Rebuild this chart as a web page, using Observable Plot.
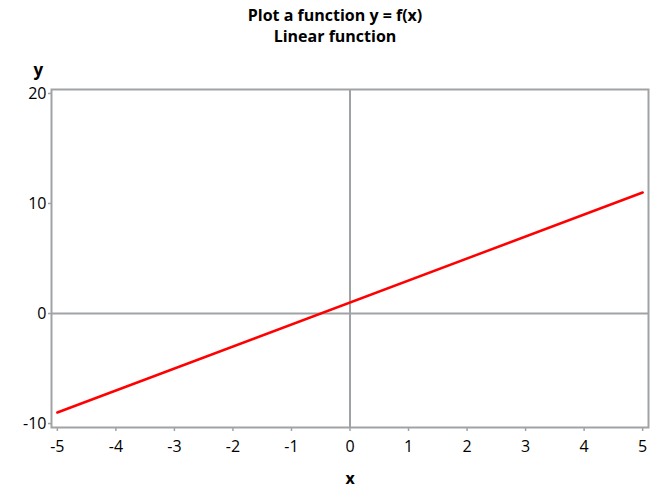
<!DOCTYPE html>
<html>
<head>
<meta charset="utf-8">
<script src="https://cdn.jsdelivr.net/npm/d3@7"></script>
<script src="https://cdn.jsdelivr.net/npm/@observablehq/plot@0.6"></script>
<style>
  body { margin: 0; background: #fff; font-family: "Open Sans", "Noto Sans", sans-serif; }
  #title { height: 48px; box-sizing: border-box; padding-top: 5px; text-align: center; font-weight: 700; font-size: 16px; line-height: 21px; color: #000; padding-left: 4px; }
  #chart g[aria-label="x-axis tick label"], #chart g[aria-label="y-axis tick label"] { font-size: 16px !important; }
</style>
</head>
<body>
<div id="title"></div>
<div id="chart"></div>
<script>
const xValues = [-5, 5];
const yValues = [-9, 11];
const xTicks = [-5, -4, -3, -2, -1, 0, 1, 2, 3, 4, 5];
const yTicks = [-10, 0, 10, 20];
const titleLines = ["Plot a function y = f(x)", "Linear function"];
const xLabel = "x";
const yLabel = "y";

const titleEl = document.getElementById("title");
titleLines.forEach(t => { const d = document.createElement("div"); d.textContent = t; titleEl.appendChild(d); });

const data = xValues.map((x, i) => ({x, y: yValues[i]}));
const gray = "#a0a3a6";

const chart = Plot.plot({
  width: 666,
  height: 440,
  marginTop: 41,
  marginBottom: 61,
  marginLeft: 51,
  marginRight: 18,
  style: {fontFamily: "'Open Sans', 'Noto Sans', sans-serif", fontSize: "16px", color: "#000", background: "#fff"},
  x: {domain: [-5.1, 5.1]},
  y: {domain: [-10.36, 20.36]},
  marks: [
    Plot.ruleX([0], {stroke: gray, strokeWidth: 2}),
    Plot.ruleY([0], {stroke: gray, strokeWidth: 2}),
    Plot.line(data, {x: "x", y: "y", stroke: "#ff0000", strokeWidth: 2.5}),
    Plot.frame({stroke: gray, strokeWidth: 2}),
    Plot.axisX({ticks: xTicks, tickFormat: d => String(d), tickSize: 4, tickPadding: 9, stroke: gray, strokeWidth: 1.5, label: null, fontSize: 16}),
    Plot.axisY({ticks: yTicks, tickFormat: d => String(d), tickSize: 3, tickPadding: 2, stroke: gray, strokeWidth: 1.5, label: null, fontSize: 16}),
    Plot.text([xLabel], {frameAnchor: "bottom", dy: 56, text: d => d, fontWeight: "bold", fontSize: 16}),
    Plot.text([yLabel], {frameAnchor: "top-left", dx: -18, dy: -26, text: d => d, fontWeight: "bold", fontSize: 17})
  ]
});
document.getElementById("chart").appendChild(chart);
</script>
</body>
</html>
